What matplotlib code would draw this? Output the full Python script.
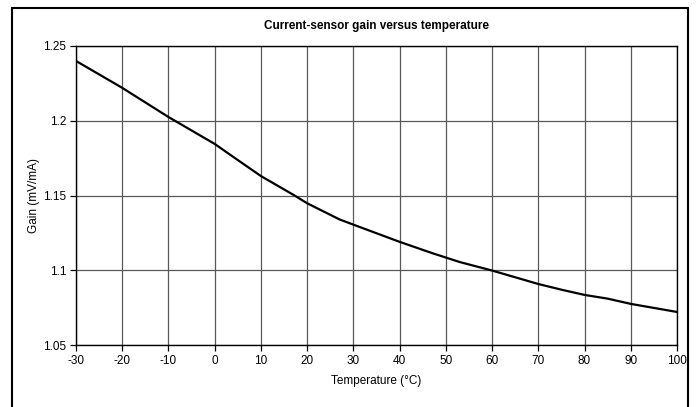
import matplotlib

matplotlib.use("Agg")
import matplotlib.pyplot as plt
from matplotlib.patches import Rectangle

plt.rcParams["font.family"] = ["Liberation Sans", "DejaVu Sans"]

# values
temperature = [-30, -20, -10, 0, 3, 10, 17, 20, 27, 30, 40, 47, 50, 53,
               60, 70, 75, 80, 85, 90, 100]
gain = [1.240, 1.222, 1.2025, 1.1845, 1.178, 1.163, 1.1505, 1.1448, 1.134,
        1.1305, 1.119, 1.1115, 1.1085, 1.1055, 1.0998, 1.0908, 1.087,
        1.0835, 1.081, 1.0775, 1.0721]

x_ticks = list(range(-30, 101, 10))
y_ticks = [1.05, 1.1, 1.15, 1.2, 1.25]
y_tick_labels = ["1.05", "1.1", "1.15", "1.2", "1.25"]

W, H = 699, 407
fig = plt.figure(figsize=(W / 100, H / 100), dpi=100)
ax = fig.add_axes([76 / W, (H - 345) / H, (677 - 76) / W, (345 - 46) / H])

ax.plot(temperature, gain, color="black", lw=1.6, solid_joinstyle="round")

ax.set_xlim(-30, 100)
ax.set_ylim(1.05, 1.25)
ax.set_xticks(x_ticks)
ax.set_xticklabels([str(t) for t in x_ticks])
ax.set_yticks(y_ticks)
ax.set_yticklabels(y_tick_labels)
ax.grid(True, color="0.35", lw=0.9)
ax.set_axisbelow(True)
for s in ax.spines.values():
    s.set_color("black")
    s.set_linewidth(1.0)
ax.tick_params(direction="out", length=4, width=0.9, labelsize=8.5, pad=3)

ax.set_xlabel("Temperature (°C)", fontsize=8.5, labelpad=6)
ax.set_ylabel("Gain (mV/mA)", fontsize=8.5, labelpad=2)
ax.set_title("Current-sensor gain versus temperature", fontsize=8.5,
             fontweight="bold", pad=12)

# chart-area border, bottom edge runs past the image
fig.patches.append(Rectangle((12 / W, -0.05), (688 - 12) / W, (H - 8) / H + 0.05,
                             transform=fig.transFigure, fill=False,
                             edgecolor="black", lw=1.5))

fig.savefig("out.png", dpi=100)
